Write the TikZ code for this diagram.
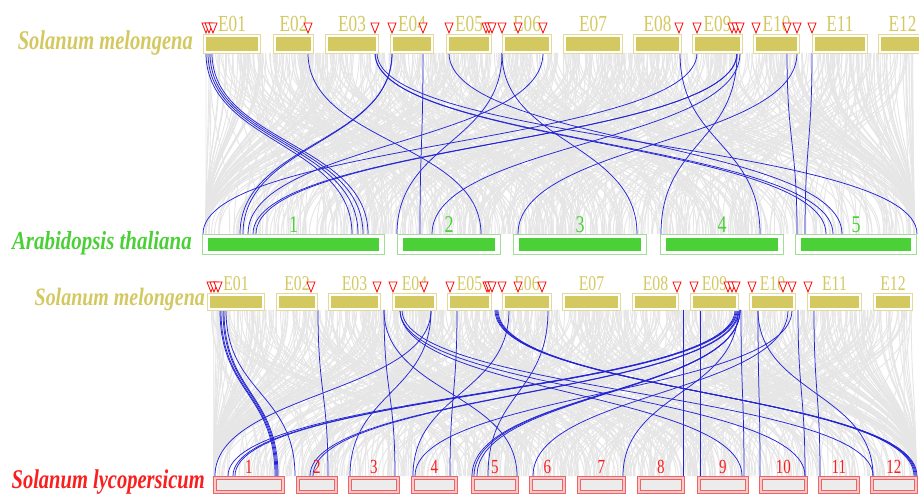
\documentclass[tikz,border=0pt]{standalone}
\usepackage{fontspec}
\setmainfont{Liberation Serif}
\usetikzlibrary{positioning}

\definecolor{melgold}{RGB}{212,200,96}
\definecolor{melrim}{RGB}{226,218,150}
\definecolor{athgreen}{RGB}{76,208,56}
\definecolor{athrim}{RGB}{160,222,150}
\definecolor{lycred}{RGB}{250,30,30}
\definecolor{lycrim}{RGB}{238,100,100}
\definecolor{lycpink}{RGB}{250,200,200}
\definecolor{lycgrey}{RGB}{236,236,236}
\definecolor{synblue}{RGB}{35,35,215}
\definecolor{syngrey}{RGB}{230,230,230}

\begin{document}
\begin{tikzpicture}[x=1pt, y=-1pt,
  melbox/.style={draw=melrim, line width=1pt, fill=white,
                 minimum height=19pt, inner sep=0pt, anchor=north west},
  athbox/.style={draw=athrim, line width=1pt, fill=white,
                 minimum height=20pt, inner sep=0pt, anchor=north west},
  lycbox/.style={draw=lycrim, line width=0.8pt, fill=lycpink,
                 minimum height=17pt, inner sep=0pt, anchor=north west},
  chrtext/.style={inner sep=0pt, anchor=base, xscale=0.75},
  spectext/.style={inner sep=0pt, anchor=base east, xscale=0.76,
                   font=\fontsize{27}{30}\selectfont\bfseries\itshape},
  redtri/.style={draw=red, line width=0.8pt, fill=white, line join=miter},
  bluelink/.style={draw=synblue, line width=0.75pt},
  greylink/.style={draw=syngrey, line width=0.9pt}
]
\clip (0,0) rectangle (919,494);
\fill[white] (0,0) rectangle (919,494);

% background synteny (grey)
\pgfmathsetseed{7}
\foreach \i in {1,...,700}{
  \pgfmathsetmacro\xa{206+rnd*708}
  \pgfmathsetmacro\xb{min(914,max(206,\xa+(rnd-0.5)*560))}
  \draw[greylink] (\xa,53) .. controls (\xa,143) and (\xb,143) .. (\xb,234);
}
\foreach \i in {1,...,700}{
  \pgfmathsetmacro\xa{210+rnd*704}
  \pgfmathsetmacro\xb{min(916,max(214,\xa+(rnd-0.5)*560))}
  \draw[greylink] (\xa,310) .. controls (\xa,393) and (\xb,393) .. (\xb,476);
}

% S. melongena -> A. thaliana
\foreach \a/\b in {206/352, 208/358, 210/363, 212/368, 308/481,
                   375/826, 375/833, 377/917, 392/240, 392/243,
                   423/420, 449/842, 502/397, 502/637, 543/248,
                   680/760, 697/203, 737/253, 737/256, 740/432,
                   737/661, 787/797, 797/518, 812/805}{
  \draw[bluelink] (\a,53) .. controls (\a,143) and (\b,143) .. (\b,234);
}

% S. melongena -> S. lycopersicum
\foreach \a/\b in {220/275, 221/276, 223/277, 224/278, 226/295,
                   318/328, 384/395, 384/517, 400/742, 400/805,
                   402/873, 431/215, 431/350, 457/450, 495/917,
                   496/916, 497/915, 498/914, 509/413, 548/488,
                   683/683, 700/700, 735/228, 736/233, 737/235,
                   738/310, 739/313, 740/472, 740/474, 740/477,
                   738/623, 741/744, 758/760, 758/873, 788/533,
                   792/415, 798/805, 814/820}{
  \draw[bluelink] (\a,310) .. controls (\a,393) and (\b,393) .. (\b,476);
}

% chromosomes, first S. melongena row
\foreach \n/\xa/\xb in {E01/203/260, E02/273/313, E03/325/378, E04/390/433,
                        E05/446/491, E06/502/551, E07/563/622, E08/633/681,
                        E09/692/742, E10/753/799, E11/812/867, E12/878/926}{
  \pgfmathsetmacro\bw{\xb-\xa}
  \node[melbox, minimum width=\bw pt] (mt\n) at (\xa,34) {};
  \fill[melgold] ([shift={(3pt,-3pt)}]mt\n.north west)
    rectangle ([shift={(-3pt,3pt)}]mt\n.south east);
  \node[chrtext, text=melgold, font=\fontsize{23}{25}\selectfont]
    at ([yshift=2pt]mt\n.north) {\n};
}

% chromosomes, A. thaliana
\foreach \n/\xa/\xb in {1/202/384, 2/397/500, 3/513/646, 4/660/783, 5/795/916}{
  \pgfmathsetmacro\bw{\xb-\xa}
  \node[athbox, minimum width=\bw pt] (at\n) at (\xa,234) {};
  \fill[athgreen] ([shift={(6pt,-4pt)}]at\n.north west)
    rectangle ([shift={(-6pt,4pt)}]at\n.south east);
  \node[chrtext, text=athgreen, font=\fontsize{24}{26}\selectfont]
    at ([yshift=1.5pt]at\n.north) {\n};
}

% chromosomes, second S. melongena row
\foreach \n/\xa/\xb in {E01/207/264, E02/276/317, E03/328/380, E04/392/436,
                        E05/447/491, E06/502/551, E07/562/620, E08/632/678,
                        E09/690/738, E10/749/795, E11/807/861, E12/873/912}{
  \pgfmathsetmacro\bw{\xb-\xa}
  \node[melbox, minimum height=17pt, minimum width=\bw pt] (mb\n) at (\xa,293) {};
  \fill[melgold] ([shift={(3pt,-3pt)}]mb\n.north west)
    rectangle ([shift={(-3pt,3pt)}]mb\n.south east);
  \node[chrtext, text=melgold, font=\fontsize{21}{23}\selectfont]
    at ([yshift=2.5pt]mb\n.north) {\n};
}

% chromosomes, S. lycopersicum
\foreach \n/\xa/\xb in {1/213/284, 2/296/337, 3/348/399, 4/411/457,
                        5/471/518, 6/529/565, 7/577/625, 8/637/684,
                        9/697/748, 10/759/807, 11/818/859, 12/870/917}{
  \pgfmathsetmacro\bw{\xb-\xa}
  \node[lycbox, minimum width=\bw pt] (ly\n) at (\xa,476) {};
  \filldraw[fill=lycgrey, draw=lycrim, line width=0.8pt]
    ([shift={(3pt,-3pt)}]ly\n.north west)
    rectangle ([shift={(-3pt,3pt)}]ly\n.south east);
  \node[chrtext, text=lycred, font=\fontsize{20}{22}\selectfont]
    at ([yshift=3pt]ly\n.north) {\n};
}

% duplicated genes (markers)
\foreach \t in {206,209,213,308,375,392,423,449,486,489,492,502,518,543,
                679,697,732,736,740,756,787,797,812}{
  \draw[redtri] (\t,23) ++(-4,0) -- ++(8,0) -- ++(-4,10) -- cycle;
}
\foreach \t in {211,214,218,311,377,393,424,450,487,489,492,502,518,542,
                677,694,728,732,736,752,783,792,808}{
  \draw[redtri] (\t,282) ++(-4,0) -- ++(8,0) -- ++(-4,10) -- cycle;
}

% species names
\node[spectext, text=melgold] (smel) at (193,50) {Solanum melongena};
\node[spectext, text=athgreen, xscale=1.06,
      font=\fontsize{26}{28}\selectfont\bfseries\itshape]
  (ath) at (192,250) {Arabidopsis thaliana};
\node[spectext, text=melgold, xscale=1.05,
      font=\fontsize{25}{28}\selectfont\bfseries\itshape]
  (smelb) at (205,306) {Solanum melongena};
\node[spectext, text=lycred] (slyc) at (205,488) {Solanum lycopersicum};

\end{tikzpicture}
\end{document}
